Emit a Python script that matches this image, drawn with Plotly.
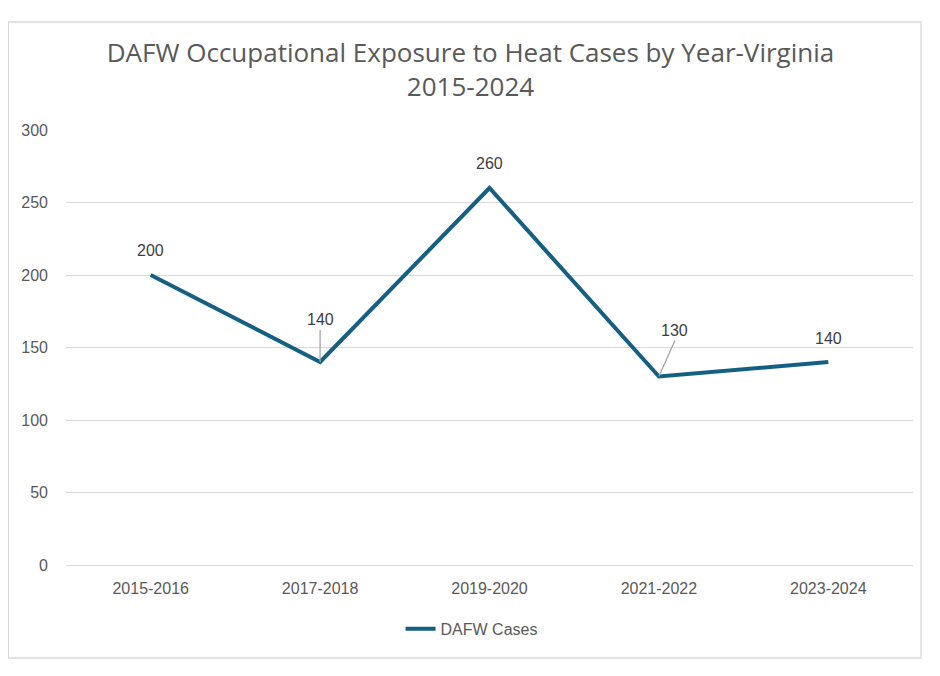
"""
DAFW occupational heat exposure cases by year, Virginia 2015-2024.
Single line chart with data labels; saves to out.html.
"""

import plotly.graph_objects as go

PERIODS = ["2015-2016", "2017-2018", "2019-2020", "2021-2022", "2023-2024"]
DAFW_CASES = [200, 140, 260, 130, 140]
Y_TICKS = [0, 50, 100, 150, 200, 250, 300]

LINE_COLOUR = "#156082"
TEXT_COLOUR = "#595959"
GRID_COLOUR = "#d9d9d9"
TITLE_FONT = "Open Sans"
FONT = "Liberation Sans"

# label offsets in pixels (ax, ay); leader lines where the label is pulled away
LABEL_OFFSETS = [(0, 25), (0, -32), (0, 25), (16, -36), (0, 24)]
LEADER = [False, True, False, True, False]


def main() -> None:
    fig = go.Figure()
    fig.add_trace(
        go.Scatter(
            x=PERIODS,
            y=DAFW_CASES,
            mode="lines",
            name="DAFW Cases",
            line=dict(color=LINE_COLOUR, width=4),
        )
    )

    for period, value, (ax, ay), leader in zip(PERIODS, DAFW_CASES, LABEL_OFFSETS, LEADER):
        fig.add_annotation(
            x=period,
            y=value,
            text=str(value),
            showarrow=leader,
            arrowhead=0,
            arrowwidth=1.3,
            arrowcolor="#a6a6a6",
            standoff=0,
            ax=ax,
            ay=ay,
            yshift=0 if leader else ay,
            yanchor="bottom" if leader else "middle",
            xanchor="center",
            font=dict(family=FONT, size=16, color="#404040"),
        )

    # outer chart frame
    fig.add_shape(
        type="rect",
        xref="paper",
        yref="paper",
        x0=-0.068,
        x1=1.0094,
        y0=-0.2138,
        y1=1.2483,
        line=dict(color=GRID_COLOUR, width=1.3),
        layer="below",
    )

    fig.update_layout(
        title=dict(
            text="DAFW Occupational Exposure to Heat Cases by Year-Virginia<br>2015-2024",
            x=0.492,
            xanchor="center",
            y=0.92,
            yref="container",
            yanchor="middle",
            font=dict(family=TITLE_FONT, size=26, color=TEXT_COLOUR),
        ),
        width=940,
        height=676,
        margin=dict(l=58, r=35, t=122, b=119),
        plot_bgcolor="white",
        paper_bgcolor="white",
        showlegend=True,
        legend=dict(
            orientation="h",
            x=0.395,
            xanchor="left",
            y=-0.147,
            yanchor="middle",
            font=dict(family=FONT, size=16, color=TEXT_COLOUR),
        ),
        xaxis=dict(
            type="category",
            range=[-0.5, 4.5],
            showgrid=False,
            showline=False,
            ticks="",
            ticklabelstandoff=12,
            tickfont=dict(family=FONT, size=16, color=TEXT_COLOUR),
        ),
        yaxis=dict(
            range=[0, 300],
            tickvals=Y_TICKS,
            showgrid=True,
            gridcolor=GRID_COLOUR,
            gridwidth=1.3,
            zeroline=True,
            zerolinecolor=GRID_COLOUR,
            zerolinewidth=1.3,
            ticks="",
            ticklabelstandoff=17,
            tickfont=dict(family=FONT, size=16, color=TEXT_COLOUR),
        ),
    )
    fig.write_html("out.html")


if __name__ == "__main__":
    main()
